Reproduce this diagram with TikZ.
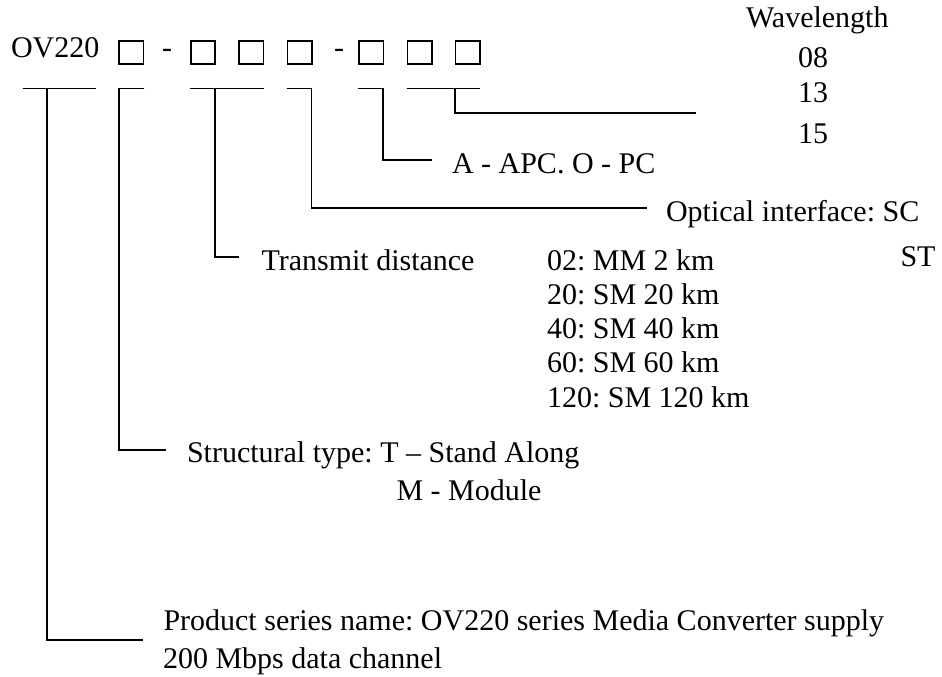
\documentclass[tikz,border=0pt]{standalone}
\usepackage{fontspec}
\setmainfont{Liberation Serif}
\frenchspacing
\begin{document}
\begin{tikzpicture}[x=1pt,y=-1pt,
  txt/.style={anchor=base west, inner sep=0pt, outer sep=0pt, font=\fontsize{30}{36}\selectfont},
  cbox/.style={draw, line width=1.6pt, minimum width=24.4pt, minimum height=23.4pt, inner sep=0pt, outer sep=0pt},
  ln/.style={line width=1.6pt}]
\useasboundingbox (0,0) rectangle (942,677);
% code line
\node[txt] (ov) at (11,58) {OV220};
\node[cbox] (b1) at (131.3,52.5) {};
\node[txt] (d1) at (162,58) {-};
\node[cbox] (b2) at (203,52.5) {};
\node[cbox] (b3) at (251.3,52.5) {};
\node[cbox] (b4) at (299.5,52.5) {};
\node[txt] (d2) at (334,58) {-};
\node[cbox] (b5) at (371.2,52.5) {};
\node[cbox] (b6) at (419.5,52.5) {};
\node[cbox] (b7) at (467.5,52.5) {};
% labels
\node[txt] (wl) at (746,28) {Wavelength};
\node[txt] (w08) at (798,67) {08};
\node[txt] (w13) at (798,102) {13};
\node[txt] (w15) at (798,143) {15};
\node[txt] (apc) at (452,173) {A - APC. O - PC};
\node[txt] (opt) at (666,221) {Optical interface: SC};
\node[txt] (st) at (900.5,266) {ST};
\node[txt] (td) at (261.5,270) {Transmit distance};
\node[txt] (k02) at (547,270) {02: MM 2 km};
\node[txt] (k20) at (547,304.3) {20: SM 20 km};
\node[txt] (k40) at (547,338.6) {40: SM 40 km};
\node[txt] (k60) at (547,372.9) {60: SM 60 km};
\node[txt] (k120) at (547,407) {120: SM 120 km};
\node[txt] (str) at (187,462) {Structural type: T – Stand Along};
\node[txt] (mod) at (396.5,500) {M - Module};
\node[txt] (prod) at (163.5,630) {Product series name: OV220 series Media Converter supply};
\node[txt] (prod2) at (163,668) {200 Mbps data channel};
% bar coordinates
\coordinate (a1) at (22.7,88.3);  \coordinate (z1) at (96,88.3);
\coordinate (v1) at (46.7,88.3);  \coordinate (e1) at (143,640);
\coordinate (a2) at (144.3,88.3); \coordinate (c2) at (119.1,450); \coordinate (e2) at (166,450);
\coordinate (a3) at (190,88.3);   \coordinate (z3) at (264.3,88.3);
\coordinate (v3) at (215,88.3);   \coordinate (e3) at (239,257);
\coordinate (a4) at (286.7,88.3); \coordinate (c4) at (311.5,208); \coordinate (e4) at (647,208);
\coordinate (a5) at (358.3,88.3); \coordinate (c5) at (383.2,160); \coordinate (e5) at (432,160);
\coordinate (a6) at (406.7,88.3); \coordinate (z6) at (480,88.3);
\coordinate (v6) at (455,88.3);   \coordinate (e6) at (696,113);
% connectors
\draw[ln] (a1) -- (z1);
\draw[ln] (v1) |- (e1);
\draw[ln] (a2) -| (c2) -- (e2);
\draw[ln] (a3) -- (z3);
\draw[ln] (v3) |- (e3);
\draw[ln] (a4) -| (c4) -- (e4);
\draw[ln] (a5) -| (c5) -- (e5);
\draw[ln] (a6) -- (z6);
\draw[ln] (v6) |- (e6);
\end{tikzpicture}
\end{document}
